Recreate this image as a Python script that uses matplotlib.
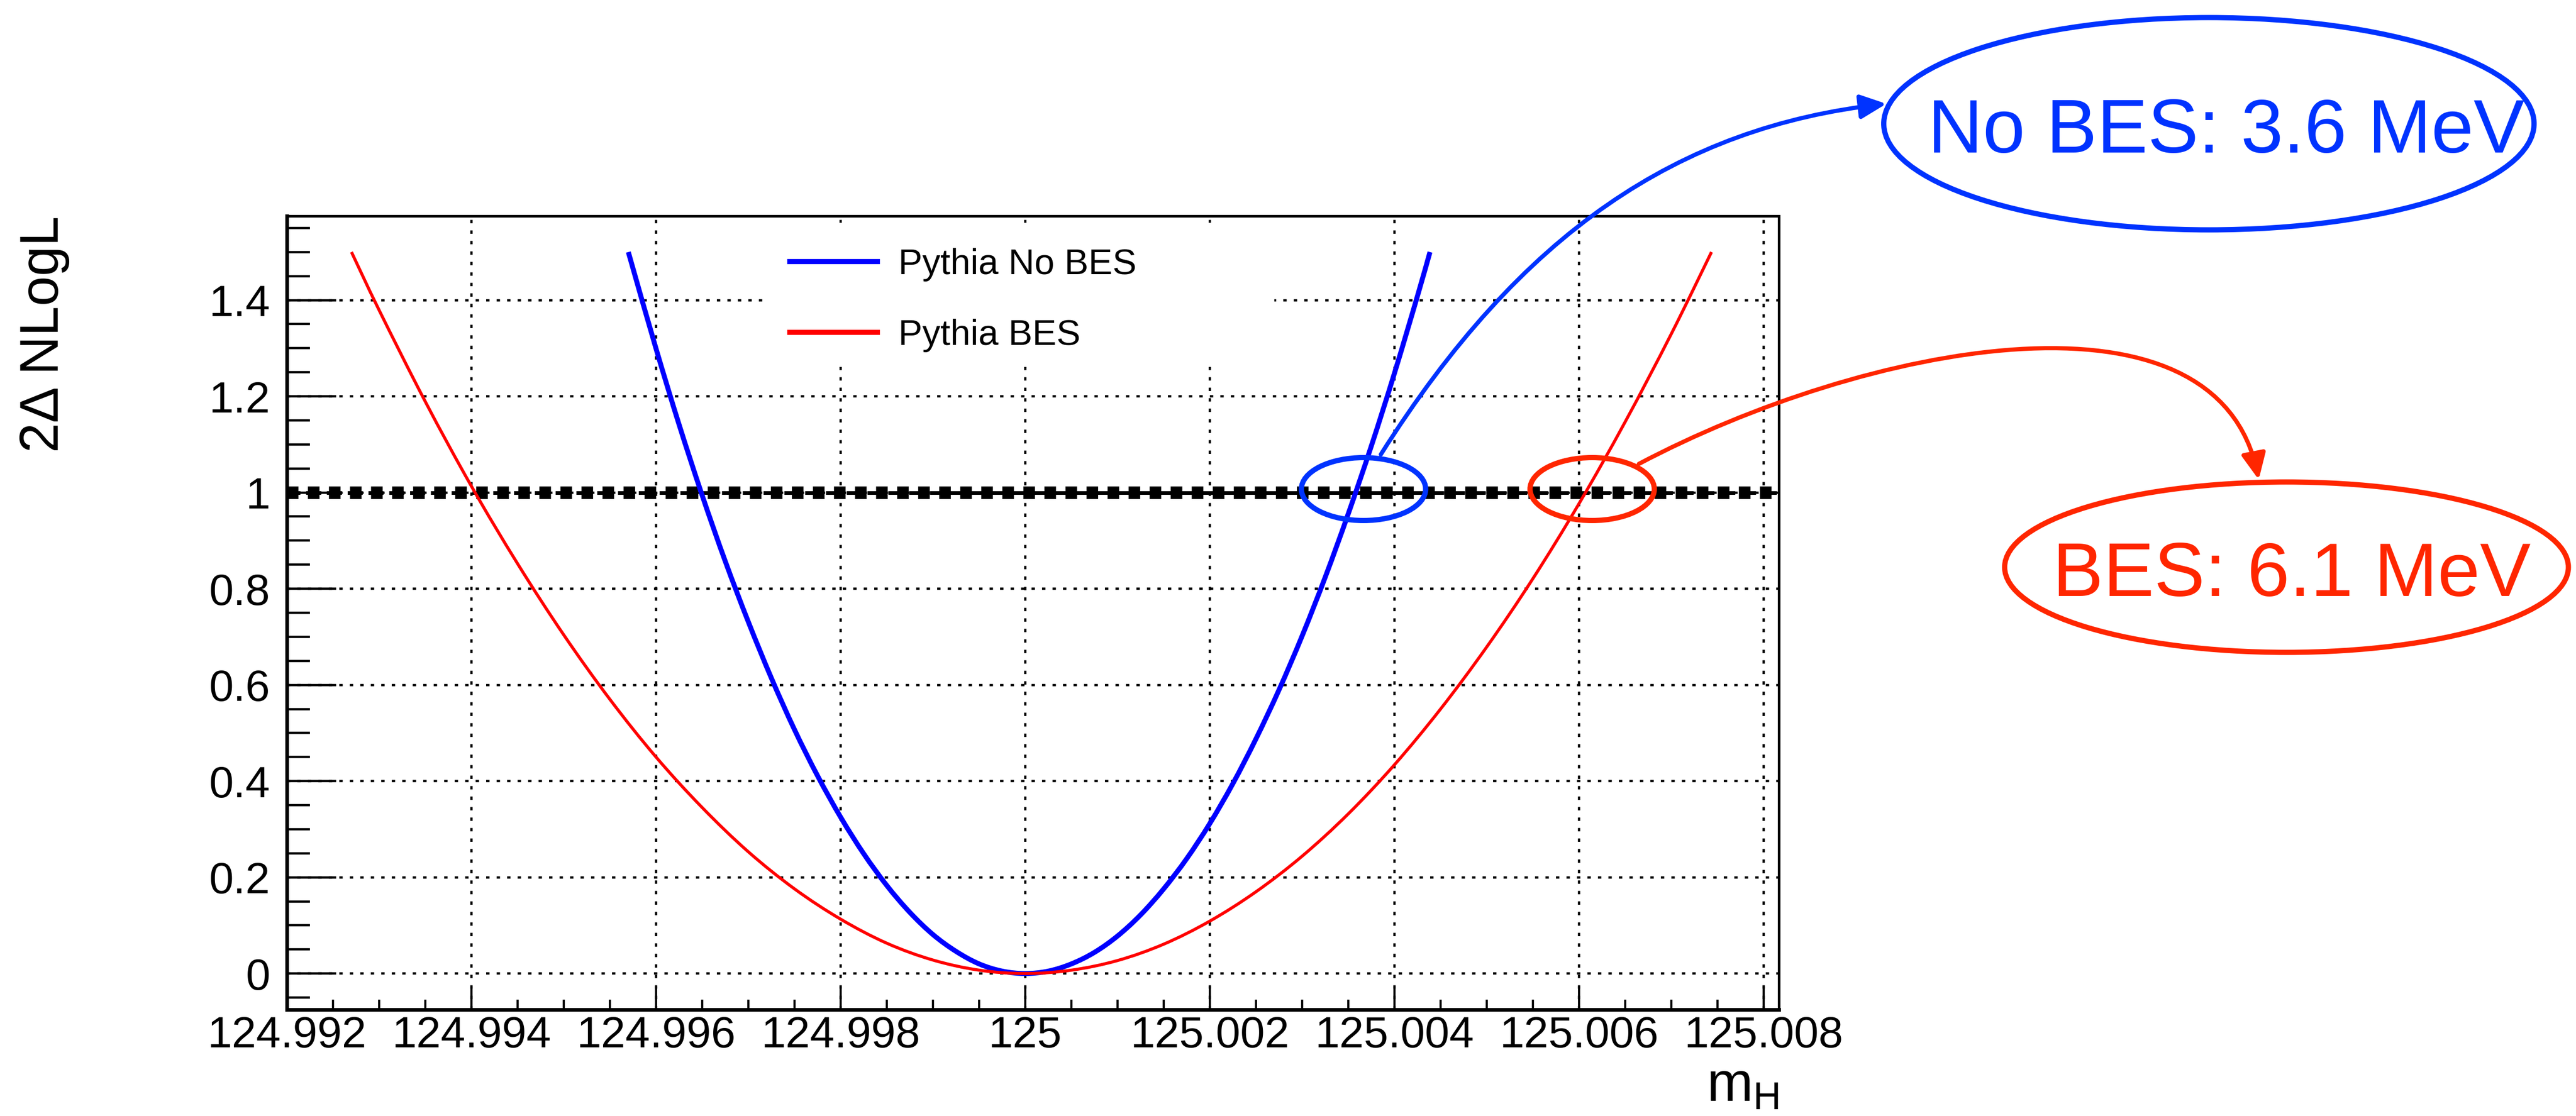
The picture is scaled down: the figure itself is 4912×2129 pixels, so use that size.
import numpy as np
import matplotlib
matplotlib.use('Agg')
import matplotlib.pyplot as plt
from matplotlib.ticker import MultipleLocator, FuncFormatter
from matplotlib.patches import Ellipse, FancyArrowPatch, Rectangle, PathPatch
from matplotlib.lines import Line2D
from matplotlib.path import Path

# datos (m_H en GeV, 2 delta NLL)
blue_mass = [124.99570, 124.99575, 124.99600, 124.99625, 124.99650, 124.99675, 124.99700,
             124.99725, 124.99750, 124.99775, 124.99800, 124.99825, 124.99850, 124.99875,
             124.99900, 124.99925, 124.99950, 124.99975, 125.00000, 125.00025, 125.00050,
             125.00075, 125.00100, 125.00125, 125.00150, 125.00175, 125.00200, 125.00225,
             125.00250, 125.00275, 125.00300, 125.00325, 125.00350, 125.00375, 125.00400,
             125.00425, 125.004385]
blue_nll = [1.500, 1.466, 1.299, 1.141, 0.994, 0.857, 0.731, 0.614, 0.507, 0.411, 0.325,
            0.249, 0.183, 0.127, 0.081, 0.046, 0.020, 0.005, 0.000, 0.005, 0.020, 0.044,
            0.078, 0.122, 0.176, 0.239, 0.312, 0.395, 0.488, 0.590, 0.702, 0.824, 0.956,
            1.097, 1.248, 1.409, 1.500]

red_mass = [124.99270, 124.99300, 124.99350, 124.99400, 124.99450, 124.99500, 124.99550,
            124.99600, 124.99650, 124.99700, 124.99750, 124.99800, 124.99850, 124.99900,
            124.99950, 125.00000, 125.00050, 125.00100, 125.00150, 125.00200, 125.00250,
            125.00300, 125.00350, 125.00400, 125.00450, 125.00500, 125.00550, 125.00600,
            125.00650, 125.00700, 125.007435]
red_nll = [1.500, 1.379, 1.189, 1.013, 0.852, 0.704, 0.570, 0.450, 0.345, 0.253, 0.176,
           0.113, 0.063, 0.028, 0.007, 0.000, 0.007, 0.027, 0.061, 0.109, 0.170, 0.244,
           0.332, 0.434, 0.550, 0.679, 0.821, 0.977, 1.147, 1.330, 1.500]

labels = ['Pythia No BES', 'Pythia BES']
notes = ['No BES: 3.6 MeV', 'BES: 6.1 MeV']
threshold = 1.0

plt.rcParams['font.family'] = ['Liberation Sans', 'DejaVu Sans']
plt.rcParams['mathtext.default'] = 'regular'

W, H = 4912, 2129
def fx(px):
    return px / W
def fy(py):
    return 1 - py / H

blue_c = '#0033ff'
red_c = '#ff2600'

#curva suave (bezier) que pasa por los puntos
def smooth_path(xs, ys):
    p = np.column_stack([xs, ys])
    n = len(p)
    verts = [p[0]]
    codes = [Path.MOVETO]
    for i in range(n - 1):
        p0 = p[i - 1] if i > 0 else p[i]
        p3 = p[i + 2] if i + 2 < n else p[i + 1]
        c1 = p[i] + (p[i + 1] - p0) / 6
        c2 = p[i + 1] - (p3 - p[i]) / 6
        verts += [c1, c2, p[i + 1]]
        codes += [Path.CURVE4] * 3
    return Path(verts, codes)

fig = plt.figure(figsize=(W / 100, H / 100), dpi=100)
ax = fig.add_axes([fx(547), fy(1926), fx(3392) - fx(547), fy(412) - fy(1926)])

#curvas
ax.add_patch(PathPatch(smooth_path(blue_mass, blue_nll), fill=False, edgecolor='#0000ff',
                       lw=6.8, zorder=3, capstyle='butt'))
ax.add_patch(PathPatch(smooth_path(red_mass, red_nll), fill=False, edgecolor='#ff0000',
                       lw=4.2, zorder=3, capstyle='butt'))

#linea punteada gruesa en 1
ax.axhline(threshold, color='black', lw=17.3, linestyle=(0, (0.92, 0.75)), zorder=2.5)
ax.axhline(threshold, color='black', lw=5, linestyle=(0.5, (4.14, 1.57)), zorder=2.5)

ax.set_xlim(124.992, 125.008165)
ax.set_ylim(-0.075, 1.575)

fmt = FuncFormatter(lambda v, p: '%g' % round(v, 6))
ax.xaxis.set_major_locator(MultipleLocator(0.002))
ax.xaxis.set_minor_locator(MultipleLocator(0.0005))
ax.yaxis.set_major_locator(MultipleLocator(0.2))
ax.yaxis.set_minor_locator(MultipleLocator(0.05))
ax.xaxis.set_major_formatter(fmt)
ax.yaxis.set_major_formatter(fmt)

ax.tick_params(axis='x', which='major', direction='in', length=32, width=3, labelsize=60.5, pad=8, top=False)
ax.tick_params(axis='x', which='minor', direction='in', length=14, width=3, top=False)
ax.tick_params(axis='y', which='major', direction='in', length=68, width=3.2, labelsize=60.5, pad=23, right=False)
ax.tick_params(axis='y', which='minor', direction='in', length=32, width=3.2, right=False)

ax.grid(True, which='major', color='black', linewidth=3.2, linestyle=(0, (1.45, 3.05)))

ax.spines['left'].set_linewidth(5)
ax.spines['bottom'].set_linewidth(5)
ax.spines['top'].set_linewidth(3.6)
ax.spines['right'].set_linewidth(3.6)

#caja blanca de la leyenda
ax.add_patch(Rectangle((fx(1460), fy(700)), fx(2430) - fx(1460), fy(425) - fy(700),
                       transform=fig.transFigure, facecolor='white', edgecolor='none', zorder=2))
handles = [Line2D([], [], color='#0000ff', lw=7, label=labels[0]),
           Line2D([], [], color='#ff0000', lw=7, label=labels[1])]
leg = ax.legend(handles=handles, loc='upper left', bbox_to_anchor=(fx(1506), fy(473)),
                bbox_transform=fig.transFigure, frameon=False, fontsize=49.4,
                handlelength=2.43, handletextpad=0.58, labelspacing=1.04,
                borderpad=0, borderaxespad=0)

#titulos de ejes
fig.text(fx(111), fy(412), '2Δ NLogL', rotation=90, rotation_mode='anchor',
         ha='right', va='baseline', fontsize=74)
fig.text(fx(3392), fy(2100), r'$m_H$', ha='right', va='baseline', fontsize=76)

#elipses
def fig_ellipse(cx, cy, w, h, color):
    fig.add_artist(Ellipse((fx(cx), fy(cy)), w / W, h / H, transform=fig.transFigure,
                           fill=False, edgecolor=color, lw=7.2, zorder=5))

fig_ellipse(2600, 933, 237, 120, blue_c)
fig_ellipse(3036, 933, 237, 120, red_c)
fig_ellipse(4212, 236, 1240, 405, blue_c)
fig_ellipse(4360, 1082, 1075, 325, red_c)

fig.text(fx(4245), fy(291), notes[0], color=blue_c, fontsize=104.5, ha='center', va='baseline')
fig.text(fx(4370), fy(1137), notes[1], color=red_c, fontsize=104.5, ha='center', va='baseline')

#flechas
def fig_arrow(pts, color):
    verts = [(fx(x), fy(y)) for x, y in pts]
    path = Path(verts, [Path.MOVETO, Path.CURVE4, Path.CURVE4, Path.CURVE4])
    fig.add_artist(FancyArrowPatch(path=path, arrowstyle='-|>,head_length=30,head_width=14',
                                   mutation_scale=1, lw=5.8, color=color,
                                   transform=fig.transFigure, zorder=5))

fig_arrow([(2633, 867), (2900, 444), (3201, 242), (3597, 198)], blue_c)
fig_arrow([(3125, 885), (3550, 660), (4230, 520), (4307, 915)], red_c)

fig.savefig('out.png', dpi=100)
